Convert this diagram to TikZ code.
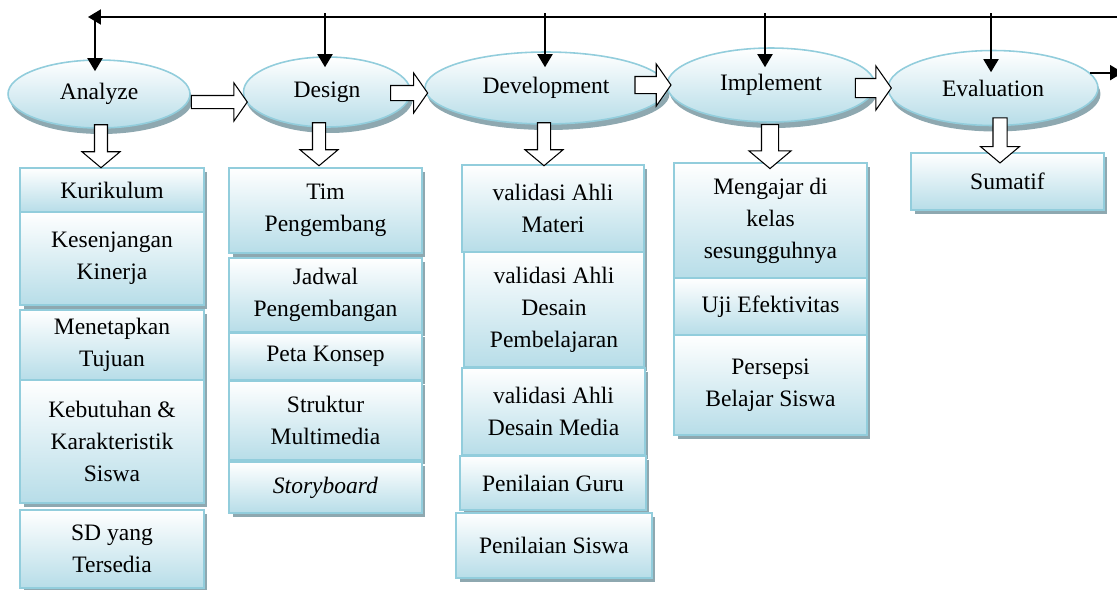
\documentclass[tikz,border=0pt]{standalone}
\usepackage{fontspec}
\setmainfont{Liberation Serif}
\usetikzlibrary{shapes.geometric, shapes.arrows, arrows.meta, shadows}
\definecolor{edgeblue}{RGB}{146,205,220}
\definecolor{fillblue}{RGB}{183,221,232}
\definecolor{shadowgray}{RGB}{142,168,176}
\tikzset{
    phase/.style = {ellipse, draw=edgeblue, line width=0.9pt, top color=white, bottom color=fillblue, inner sep=0pt, font=\fontsize{13.4}{18.2}\selectfont, drop shadow={shadow xshift=0.05cm, shadow yshift=-0.12cm, fill=shadowgray, opacity=1}},
    item/.style = {rectangle, draw=edgeblue, line width=1pt, top color=white, bottom color=fillblue, align=center, inner sep=2pt, font=\fontsize{13.4}{18.2}\selectfont, drop shadow={shadow xshift=0.07cm, shadow yshift=-0.08cm, fill=shadowgray, opacity=1}},
    flow/.style = {single arrow, draw, line width=0.6pt, fill=white, inner xsep=0pt, outer sep=0pt, single arrow head indent=0pt, single arrow tip angle=110},
    feed/.style = {draw, line width=1.1pt, -{Triangle[length=0.26cm, width=0.3cm]}}
}
\begin{document}
\begin{tikzpicture}[x=0.02cm, y=-0.02cm]
        \clip (0,0) rectangle (1117,589);

        % Phases
        \node [phase, minimum width=3.64cm, minimum height=1.36cm] (analyze) at (99,94) {Analyze};
        \node [phase, minimum width=3.34cm, minimum height=1.40cm] (design) at (327,92) {Design};
        \node [phase, minimum width=4.84cm, minimum height=1.44cm] (develop) at (546,88) {Development};
        \node [phase, minimum width=4.16cm, minimum height=1.48cm] (implement) at (771,85) {Implement};
        \node [phase, minimum width=4.20cm, minimum height=1.50cm] (evaluation) at (993,88) {Evaluation};

        % Analyze column
        \node [item, minimum width=3.68cm, minimum height=0.88cm] (kur) at (112,190) {Kurikulum};
        \node [item, minimum width=3.68cm, minimum height=1.86cm] (kes) at (112,258.5) {Kesenjangan\\Kinerja};
        \node [item, minimum width=3.68cm, minimum height=1.40cm] (men) at (112,345) {Menetapkan\\Tujuan};
        \node [item, minimum width=3.68cm, minimum height=2.46cm] (keb) at (112,441.5) {Kebutuhan \&\\Karakteristik\\Siswa};
        \node [item, minimum width=3.68cm, minimum height=1.56cm] (sd) at (112,549) {SD yang\\Tersedia};

        % Design column
        \node [item, minimum width=3.86cm, minimum height=1.70cm] (tim) at (325.5,210.5) {Tim\\Pengembang};
        \node [item, minimum width=3.86cm, minimum height=1.48cm] (jad) at (325.5,295) {Jadwal\\Pengembangan};
        \node [item, minimum width=3.86cm, minimum height=0.94cm] (peta) at (325.5,356.5) {Peta Konsep};
        \node [item, minimum width=3.86cm, minimum height=1.58cm] (struk) at (325.5,420.5) {Struktur\\Multimedia};
        \node [item, minimum width=3.86cm, minimum height=1.02cm] (story) at (325.5,487.5) {\textit{Storyboard}};

        % Development column
        \node [item, minimum width=3.64cm, minimum height=1.74cm] (vmat) at (553,208.5) {validasi Ahli\\Materi};
        \node [item, minimum width=3.60cm, minimum height=2.30cm] (vdes) at (554,309.5) {validasi Ahli\\Desain\\Pembelajaran};
        \node [item, minimum width=3.66cm, minimum height=1.74cm] (vmed) at (553.5,411.5) {validasi Ahli\\Desain Media};
        \node [item, minimum width=3.72cm, minimum height=1.08cm] (guru) at (553,483) {Penilaian Guru};
        \node [item, minimum width=3.92cm, minimum height=1.30cm] (siswa) at (554,545.5) {Penilaian Siswa};

        % Implement column
        \node [item, minimum width=3.86cm, minimum height=2.30cm] (ajar) at (770.5,220.5) {Mengajar di\\kelas\\sesungguhnya};
        \node [item, minimum width=3.86cm, minimum height=1.14cm] (uji) at (770.5,306.5) {Uji Efektivitas};
        \node [item, minimum width=3.86cm, minimum height=2.00cm] (persepsi) at (770.5,385) {Persepsi\\Belajar Siswa};

        % Evaluation column
        \node [item, minimum width=3.86cm, minimum height=1.14cm] (sumatif) at (1007.5,181.5) {Sumatif};

        % Hollow arrows between phases
        \node [flow, inner ysep=0.12cm, minimum width=0.60cm, minimum height=1.12cm] (a1) at (217,102) {};
        \node [flow, inner ysep=0.14cm, minimum width=0.76cm, minimum height=0.74cm] (a2) at (406.5,93) {};
        \node [flow, inner ysep=0.16cm, minimum width=0.76cm, minimum height=0.72cm] (a3) at (650,85) {};
        \node [flow, inner ysep=0.18cm, minimum width=0.76cm, minimum height=0.72cm] (a4) at (870,88) {};

        % Hollow arrows down to the lists
        \node [flow, rotate=-90, single arrow tip angle=100, inner ysep=0.12cm, minimum width=0.52cm, minimum height=0.86cm] (d1) at (101,143.5) {};
        \node [flow, rotate=-90, single arrow tip angle=100, inner ysep=0.12cm, minimum width=0.52cm, minimum height=0.86cm] (d2) at (319,141.5) {};
        \node [flow, rotate=-90, single arrow tip angle=100, inner ysep=0.12cm, minimum width=0.52cm, minimum height=0.86cm] (d3) at (544,141.5) {};
        \node [flow, rotate=-90, single arrow tip angle=100, inner ysep=0.16cm, minimum width=0.52cm, minimum height=0.88cm] (d4) at (770,143) {};
        \node [flow, rotate=-90, single arrow tip angle=100, inner ysep=0.13cm, minimum width=0.50cm, minimum height=0.90cm] (d5) at (1000,137.5) {};

        % Feedback line
        \coordinate (busR) at (1130,17);
        \coordinate (busL) at (88,17);
        \coordinate (b1) at (95,13);
        \coordinate (b2) at (325,13);
        \coordinate (b3) at (545,13);
        \coordinate (b4) at (765,13);
        \coordinate (b5) at (991,13);
        \coordinate (outR) at (1123,73);
        \path [feed] (busR) -- (busL);
        \path [feed, shorten >=-0.24cm] (b1) -- (b1 |- analyze.north);
        \path [feed, shorten >=-0.22cm] (b2) -- (b2 |- design.north);
        \path [feed, shorten >=-0.32cm] (b3) -- (b3 |- develop.north);
        \path [feed, shorten >=-0.40cm] (b4) -- (b4 |- implement.north);
        \path [feed, shorten >=-0.45cm] (b5) -- (b5 |- evaluation.north);
        \path [feed] (evaluation.9) -- (evaluation.9 -| outR);

    \end{tikzpicture}
\end{document}
